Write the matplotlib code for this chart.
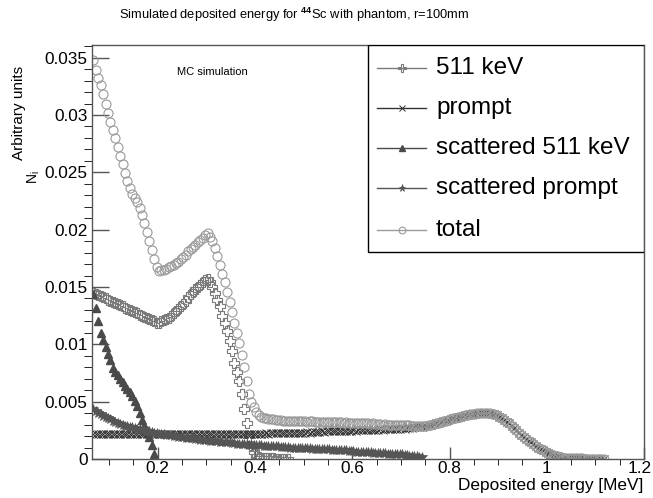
import numpy as np
import matplotlib
matplotlib.use("Agg")
import matplotlib.pyplot as plt
from matplotlib.lines import Line2D
from matplotlib.patches import Rectangle
from matplotlib.ticker import MultipleLocator, FuncFormatter
from matplotlib.transforms import ScaledTranslation

plt.rcParams['font.family'] = ['Liberation Sans', 'DejaVu Sans']
plt.rcParams['mathtext.fontset'] = 'custom'
plt.rcParams['mathtext.rm'] = 'Liberation Sans'
plt.rcParams['mathtext.it'] = 'Liberation Sans:italic'
plt.rcParams['mathtext.bf'] = 'Liberation Sans:bold'

# histogram binning (MeV): 5 keV bins, first bin centre at 67.5 keV
bin_start = 0.0675
bin_width = 0.005
scale = 1e-4  # bin contents below are in units of 1e-4

# 511 keV photopeak photons
e511 = [145, 144, 143, 142, 141, 140, 139, 138, 137, 136,
        135, 134, 133, 132, 131, 130, 129, 128, 127, 126,
        125, 124, 123, 122, 121, 120, 119, 119, 120, 121,
        122, 123, 125, 127, 129, 131, 133, 135, 138, 141,
        144, 146, 148, 150, 152, 154, 156, 157, 154, 150,
        145, 139, 133, 125, 119, 112, 103, 94, 84, 76,
        68, 57, 44, 31, 20, 11, 6, 3, 1.5, 1,
        0.8, 0.7, 0.6, 0.5, 0.5, 0.4, 0.4, 0.3, 0.3, 0.2, 0.2]

# prompt gamma (only the part below 0.75 MeV; the rest is prompt_tail)
prompt_low = [22, 21.5, 22, 21.5, 21.5, 22, 21.5, 22, 21.5, 22,
              21.5, 22, 22, 21.5, 22, 21.5, 22, 22, 21.5, 22,
              22, 21.5, 22, 22, 21.5, 22, 22, 21.5, 22, 22,
              21.5, 22, 22, 21.5, 22, 22, 21.5, 22, 22, 21.5,
              22, 22, 21.5, 22, 22, 22, 21.5, 22, 22, 22,
              21.5, 22, 22, 22, 21.5, 22, 22, 22, 22, 22,
              22, 22, 22, 22, 22, 22, 22, 22, 22, 22,
              22, 22.5, 22, 22.5, 22.5, 22.5, 22.5, 22.5, 22.5, 23,
              22.5, 23, 23, 23, 23, 23, 23, 23, 23.5, 23,
              23.5, 23.5, 23.5, 23.5, 24, 23.5, 24, 24, 24, 24,
              24, 24.5, 24, 24.5, 24.5, 24.5, 24.5, 25, 24.5, 25,
              25, 25, 25, 25.5, 25, 25.5, 25.5, 25.5, 26, 25.5,
              26, 26, 26, 26.5, 26, 26.5, 26.5, 27, 26.5, 27,
              27, 27, 27.5, 27.5, 28, 28]

# above 0.75 MeV only the prompt line contributes (total == prompt)
prompt_tail = [28.5, 29, 29.5, 30, 30.5, 31, 31.5, 32.5, 33, 33.5,
               34, 35, 35.5, 36, 36.5, 37, 37.5, 38, 38.5, 39,
               39, 39.5, 40, 40, 40.5, 40.5, 40.5, 40, 39.5, 39,
               38, 37, 35.5, 34, 32.5, 31, 29, 27, 25, 23,
               21, 19.5, 17.5, 16, 14.5, 13, 11.5, 10, 8.5, 7.5,
               6.5, 5.5, 4.5, 3.5, 3, 2.2, 1.7, 1.3, 1.0, 0.8,
               0.7, 0.6, 0.6, 0.5, 0.5, 0.5, 0.4, 0.4, 0.4, 0.4,
               0.3, 0.3, 0.3, 0.3, 0.2]

# 511 keV photons scattered in the phantom
scat511 = [144, 132, 120, 110, 104, 98, 92, 86, 79, 76,
           73, 70, 67, 64, 61, 58, 55, 51, 46, 40,
           34, 29, 25, 19, 12, 4]

# prompt photons scattered in the phantom
scat_prompt = [44, 42, 40.5, 39, 37.5, 36.5, 35.5, 34.5, 33.5, 32.5,
               31.5, 30.5, 30, 29, 28.5, 28, 27.5, 27, 26.5, 26,
               25.5, 25, 24.5, 24, 23.5, 23, 22.5, 22, 21.5, 21.5,
               21, 20.5, 20.5, 20, 20, 19.5, 19, 19, 18.5, 18.5,
               18, 18, 17.5, 17.5, 17, 17, 16.5, 16.5, 16, 16,
               15.5, 15.5, 15, 15, 14.5, 14.5, 14.5, 14, 14, 13.5,
               13.5, 13, 13, 13, 12.5, 12.5, 12.5, 12, 12, 12,
               11.5, 11.5, 11.5, 11, 11, 11, 11, 10.5, 10.5, 10.5,
               10.5, 10, 10, 10, 10, 10, 10, 9.5, 9.5, 9.5,
               9, 9, 9, 9, 8.5, 8.5, 8.5, 8.5, 8, 8,
               8, 7.5, 7.5, 7.5, 7.5, 7, 7, 7, 6.5, 6.5,
               6.5, 6.5, 6, 6, 6, 5.5, 5.5, 5.5, 5, 5,
               5, 4.5, 4.5, 4.5, 4, 4, 4, 4, 3.5, 3.5,
               3, 3, 2.5, 2.5, 2, 1.5]

# sum of all contributions below 0.75 MeV
total_low = [348, 339, 332, 326, 318, 310, 302, 294, 287, 280,
             272, 264, 257, 249, 242, 236, 231, 228, 224, 219,
             213, 206, 198, 190, 182, 174, 167, 164, 165, 165,
             166, 167, 168, 169, 171, 172, 174, 176, 178, 181,
             183, 185, 187, 189, 191, 193, 195, 197, 194, 190,
             184, 177, 169, 161, 154, 146, 137, 128, 119, 110,
             101, 91, 80, 68, 57, 50, 45, 41, 38.5, 37,
             36, 35.5, 35, 34.5, 34.5, 34,
             34, 34, 33.5, 33.5, 33, 33.5, 33, 33, 33, 33.5,
             33, 33, 32.5, 33, 33, 32.5,
             32.5, 32.5, 32, 32.5, 32.5, 32, 32, 32.5, 32, 32,
             32, 31.5, 32, 31.5, 31.5, 31.5,
             31.5, 31, 31, 31.5, 31, 31, 30.5, 31, 30.5, 30.5,
             30.5, 30, 30.5, 30, 30, 30,
             30, 30, 29.5, 30, 29.5, 29.5, 29.5, 29, 29, 29,
             28.5, 28.5]

prompt = prompt_low + prompt_tail
total = total_low + prompt_tail


def centres(values):
    return bin_start + bin_width * np.arange(len(values))


# name, contents, marker style
series = [
    ("511 keV", e511, dict(marker="P", ms=7, mfc="none", mec="#7a7a7a", mew=0.8, color="#7a7a7a")),
    ("prompt", prompt, dict(marker="x", ms=5.5, mec="#333333", mew=0.7, color="#333333")),
    ("scattered 511 keV", scat511, dict(marker="^", ms=6, mfc="#4a4a4a", mec="#4a4a4a", color="#4a4a4a")),
    ("scattered prompt", scat_prompt, dict(marker="*", ms=7, mfc="#555555", mec="#555555", mew=0.5, color="#555555")),
    ("total", total, dict(marker="o", ms=6.5, mfc="none", mec="#9a9a9a", mew=0.8, color="#9a9a9a")),
]

fig = plt.figure(figsize=(6.53, 4.98), dpi=100)
ax = fig.add_axes([0.1404, 0.0783, 0.8458, 0.8313])

for name, vals, style in series:
    ax.plot(centres(vals), np.array(vals) * scale, linestyle="none", **style)

ax.set_xlim(0.064, 1.2)
ax.set_ylim(0, 0.0361)

fmt = FuncFormatter(lambda v, pos: "%g" % round(v, 6))
ax.xaxis.set_major_locator(MultipleLocator(0.2))
ax.xaxis.set_minor_locator(MultipleLocator(0.05))
ax.yaxis.set_major_locator(MultipleLocator(0.005))
ax.yaxis.set_minor_locator(MultipleLocator(0.001))
ax.xaxis.set_major_formatter(fmt)
ax.yaxis.set_major_formatter(fmt)

frame_col = "#555555"
for sp in ax.spines.values():
    sp.set_color(frame_col)
    sp.set_linewidth(1.0)
ax.tick_params(direction="in", colors=frame_col, labelcolor="black", labelsize=12.4,
               top=False, right=False, width=1.0)
ax.tick_params(axis="y", which="major", length=12, pad=3)
ax.tick_params(axis="y", which="minor", length=6)
ax.tick_params(axis="x", which="major", length=9, pad=1.5)
ax.tick_params(axis="x", which="minor", length=4.5)

# titles and labels
fig.text(0.450, 0.970, r"Simulated deposited energy for $^{\mathbf{44}}$Sc with phantom, r=100mm",
         ha="center", va="center", fontsize=9.3)
fig.text(0.986, 0.026, "Deposited energy [MeV]", ha="right", va="center", fontsize=12.4)
fig.text(0.029, 0.773, "Arbitrary units", rotation=90, ha="center", va="center", fontsize=11)
fig.text(0.051, 0.645, r"N$_\mathrm{i}$", rotation=90, ha="center", va="center", fontsize=10)
ax.text(0.1545, 0.935, "MC simulation", transform=ax.transAxes, ha="left", va="center", fontsize=8)

# legend box in the upper right quarter of the frame
ax.add_patch(Rectangle((0.5, 0.5), 0.5, 0.5, transform=ax.transAxes, facecolor="white",
                       edgecolor="black", lw=1.0, zorder=5))
rows = [0.944, 0.848, 0.751, 0.655, 0.554]
for (name, vals, style), y in zip(series, rows):
    st = dict(style)
    st["ms"] = st["ms"] * 0.75
    ax.add_line(Line2D([0.5166, 0.6053], [y, y], transform=ax.transAxes, lw=1.0,
                       zorder=6, color=st.pop("color")))
    ax.add_line(Line2D([0.561], [y], transform=ax.transAxes, linestyle="none", zorder=7, **st))
    ax.text(0.6234, y, name, transform=ax.transAxes, ha="left", va="center",
            fontsize=17.5, zorder=7)

# keep the last x label inside the canvas
fig.canvas.draw()
for tick in ax.xaxis.get_major_ticks():
    if abs(tick.get_loc() - 1.2) < 1e-6:
        tick.label1.set_transform(tick.label1.get_transform()
                                  + ScaledTranslation(-0.04, 0, fig.dpi_scale_trans))

fig.savefig("out.png", dpi=100)
